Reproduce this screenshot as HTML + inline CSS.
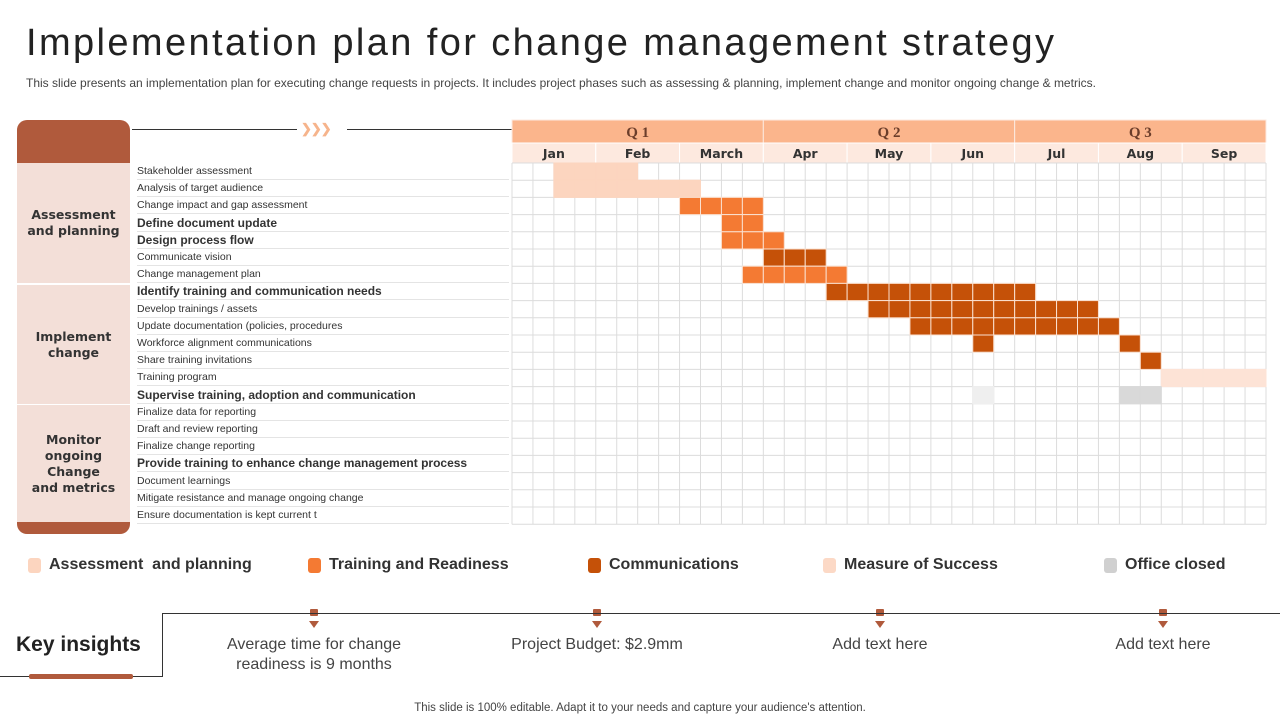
<!DOCTYPE html>
<html><head><meta charset="utf-8"><style>
body{margin:0;width:1280px;height:720px;background:#fff;font-family:"Liberation Sans",sans-serif;position:relative;overflow:hidden;color:#333}
.abs{position:absolute}
h1{position:absolute;left:26px;top:22px;margin:0;font-weight:400;font-size:38px;letter-spacing:2.4px;color:#222}
.sub{left:26px;top:76px;font-size:12px;color:#444}
.cat{background:#f3dfd8;left:17px;width:113px;display:flex;align-items:center;justify-content:center;text-align:center;font-family:"DejaVu Sans",sans-serif;font-weight:bold;font-size:12.5px;color:#333;line-height:16px}
.task{left:137px;width:372px;height:17px;line-height:17px;font-size:10.5px;color:#333;border-bottom:1px solid #e4e4e4;box-sizing:border-box;white-space:nowrap}
.task.b{font-size:12px;font-weight:bold}
.leg{top:556px;font-size:16px;font-weight:bold;color:#333;display:flex;align-items:center}
.leg i{display:inline-block;width:13px;height:15px;border-radius:3px;margin-right:8px}
.ins{font-size:16px;color:#444;text-align:center;width:240px;top:635px;line-height:20px}
</style></head><body>
<h1>Implementation plan for change management strategy</h1>
<div class="abs sub">This slide presents an implementation plan for executing change requests in projects. It includes project phases such as assessing &amp; planning, implement change and monitor ongoing change &amp; metrics.</div>
<div class="abs" style="left:17px;top:120px;width:113px;height:43px;background:#b05a3c;border-radius:10px 10px 0 0"></div>
<div class="abs" style="left:17px;top:520px;width:113px;height:14px;background:#b05a3c;border-radius:0 0 10px 10px"></div>
<div class="abs cat" style="top:163px;height:120px">Assessment<br>and planning</div>
<div class="abs cat" style="top:285px;height:119px">Implement<br>change</div>
<div class="abs cat" style="top:405px;height:117px">Monitor<br>ongoing<br>Change<br>and metrics</div>
<div class="abs" style="left:132px;top:129px;width:165px;height:1px;background:#333"></div>
<div class="abs" style="left:301px;top:121px;color:#f6b48c;font-weight:bold;font-size:13px;letter-spacing:-1px">&#10095;&#10095;&#10095;</div>
<div class="abs" style="left:347px;top:129px;width:165px;height:1px;background:#333"></div>
<div id="tasks"></div>
<svg class="abs" style="left:0;top:0" width="1280" height="720" id="g"></svg>
<div class="abs leg" style="left:28px"><i style="background:#fcd5bf"></i>Assessment&nbsp; and planning</div>
<div class="abs leg" style="left:308px"><i style="background:#f47a33"></i>Training and Readiness</div>
<div class="abs leg" style="left:588px"><i style="background:#c55108"></i>Communications</div>
<div class="abs leg" style="left:823px"><i style="background:#fcd9c6"></i>Measure of Success</div>
<div class="abs leg" style="left:1104px"><i style="background:#d0d0d0"></i>Office closed</div>
<div class="abs" style="left:0;top:676px;width:163px;height:1px;background:#333"></div>
<div class="abs" style="left:162px;top:613px;width:1px;height:64px;background:#333"></div>
<div class="abs" style="left:162px;top:613px;width:1118px;height:1px;background:#333"></div>
<div class="abs" style="left:29px;top:674px;width:104px;height:5px;background:#b05a3c;border-radius:2px"></div>
<div class="abs" style="left:16px;top:633px;font-size:21px;font-weight:bold;color:#222">Key insights</div>
<div id="ins"></div>
<div class="abs" style="left:0;width:1280px;text-align:center;top:702px;font-size:11.5px;color:#444">This slide is 100% editable. Adapt it to your needs and capture your audience's attention.</div>
<script>
const quarters=["Q 1","Q 2","Q 3"];
const months=["Jan","Feb","March","Apr","May","Jun","Jul","Aug","Sep"];
const tasks=["Stakeholder assessment","Analysis of target audience","Change impact and gap assessment","Define document  update","Design process flow","Communicate  vision","Change management plan","Identify training and communication needs","Develop trainings / assets","Update documentation (policies, procedures","Workforce alignment communications","Share training invitations","Training program","Supervise training, adoption and communication","Finalize data for reporting","Draft and review reporting","Finalize change reporting","Provide training to enhance change management process","Document learnings","Mitigate resistance and manage ongoing change","Ensure documentation is kept current t"];
const boldRows=[3,4,7,13,17];
const segRow=[0,1,2,3,4,5,6,7,8,9,10,10,11,12,13,13];
const segStart=[2,2,8,10,10,12,11,15,17,19,22,29,30,31,22,29];
const segEnd=[5,8,11,11,12,14,15,24,27,28,22,29,30,35,22,30];
const segCat=["assess","assess","train","train","train","comm","train","comm","comm","comm","comm","comm","comm","measure","closedLight","closed"];
const insights=["Average time for change readiness is 9 months","Project Budget: $2.9mm","Add text here","Add text here"];
const colors={assess:"#fcd5bf",train:"#f47a33",comm:"#c55108",measure:"#fde3d6",closedLight:"#efefef",closed:"#d9d9d9"};
const X0=512,X1=1266,NC=36,CW=(X1-X0)/NC,Y0=163,RH=17.2;
const cx=c=>X0+c*CW, ry=r=>Y0+r*RH;
const ns="http://www.w3.org/2000/svg",g=document.getElementById('g');
function mk(t,a){const e=document.createElementNS(ns,t);for(const k in a)e.setAttribute(k,a[k]);g.appendChild(e);return e;}
const qw=(X1-X0)/quarters.length, mw=(X1-X0)/months.length;
quarters.forEach((q,i)=>{const r=mk('rect',{x:X0+i*qw,y:120,width:qw,height:23,fill:'#fbb58c',stroke:'#fde9df','stroke-width':1});

const t=mk('text',{x:X0+i*qw+qw/2,y:137,'text-anchor':'middle','font-size':15,'font-family':'Liberation Serif, serif','font-weight':'bold',fill:'#6b3d2a'});t.textContent=q;
});
months.forEach((m,i)=>{const r=mk('rect',{x:X0+i*mw,y:143,width:mw,height:20,fill:'#fde9df',stroke:'#fff','stroke-width':1});

const t=mk('text',{x:X0+i*mw+mw/2,y:158,'text-anchor':'middle','font-size':12.5,'font-family':'DejaVu Sans, sans-serif','font-weight':'bold',fill:'#333'});t.textContent=m;
});
for(let c=0;c<=NC;c++){const l=mk('line',{x1:cx(c),x2:cx(c),y1:Y0,y2:ry(tasks.length),stroke:'#dcdcdc'});}
for(let r=0;r<=tasks.length;r++){const l=mk('line',{x1:X0,x2:X1,y1:ry(r),y2:ry(r),stroke:'#dcdcdc'});}
segRow.forEach((r,i)=>{for(let c=segStart[i];c<=segEnd[i];c++){const e=mk('rect',{x:cx(c),y:ry(r),width:CW,height:RH,fill:colors[segCat[i]],stroke:(segCat[i]=='train'||segCat[i]=='comm')?'#fbe0cf':colors[segCat[i]],'stroke-width':1});
}});
const tw=document.getElementById('tasks');
tasks.forEach((t,i)=>{const d=document.createElement('div');d.className='abs task'+(boldRows.includes(i)?' b':'');d.style.top=ry(i)+'px';d.textContent=t;


tw.appendChild(d);});
const iw=document.getElementById('ins'),ix=[314,597,880,1163];
insights.forEach((t,i)=>{const d=document.createElement('div');d.className='abs ins';d.style.left=(ix[i]-120)+'px';d.textContent=t;


iw.appendChild(d);
const s=mk('rect',{x:ix[i]-4,y:609,width:8,height:7,fill:'#b05a3c',rx:1});
const p=mk('polygon',{points:`${ix[i]-5},621 ${ix[i]+5},621 ${ix[i]},628`,fill:'#b05a3c'});});
</script>
</body></html>
